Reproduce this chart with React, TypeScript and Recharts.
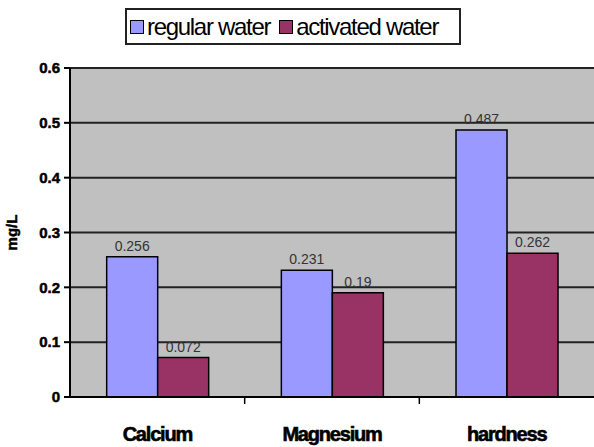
import React from 'react';
import {
  BarChart,
  Bar,
  XAxis,
  YAxis,
  CartesianGrid,
  LabelList
} from 'recharts';

const categories = ['Calcium', 'Magnesium', 'hardness'];
const regularWater = [0.256, 0.231, 0.487];
const activatedWater = [0.072, 0.19, 0.262];
const yTicks = [0, 0.1, 0.2, 0.3, 0.4, 0.5, 0.6];

const data = categories.map((name, i) => ({
  name,
  regular: regularWater[i],
  activated: activatedWater[i]
}));

const CHART_W = 594;
const PLOT_LEFT = 70;
const FONT = "'Liberation Sans', Arial, sans-serif";

// category label plus the little tick mark on the left band edge
const CategoryTick = (props: any) => {
  const { x, y, payload, index } = props;
  const band = (CHART_W - PLOT_LEFT) / categories.length;
  return (
    <g>
      {index > 0 && (
        <line x1={x - band / 2} x2={x - band / 2} y1={y - 8} y2={y - 1} stroke="#000" strokeWidth={1.5} />
      )}
      <text
        x={x}
        y={y + 36}
        textAnchor="middle"
        fontFamily={FONT}
        fontWeight="bold"
        fontSize={20}
        letterSpacing={-1.2}
        stroke="#000"
        strokeWidth={0.6}
        fill="#000"
      >
        {payload.value}
      </text>
    </g>
  );
};

const LegendBox = () => (
  <div
    style={{
      position: 'absolute',
      left: 125,
      top: 8,
      width: 336,
      height: 37,
      border: '2px solid #222',
      display: 'flex',
      alignItems: 'center',
      padding: '0 3px',
      fontFamily: FONT,
      fontSize: 24,
      letterSpacing: -1.3,
      color: '#000',
      boxSizing: 'border-box',
      background: '#fff',
      whiteSpace: 'nowrap'
    }}
  >
    <span style={{ width: 12, height: 12, background: '#9999FF', border: '1.5px solid #000', marginRight: 3 }} />
    <span style={{ marginRight: 9 }}>regular water</span>
    <span style={{ width: 12, height: 12, background: '#993366', border: '1.5px solid #000', marginRight: 3 }} />
    <span>activated water</span>
  </div>
);

export default function App() {
  return (
    <div style={{ position: 'absolute', left: 0, top: 0, width: CHART_W, height: 447, background: '#fff' }}>
      <BarChart
        width={CHART_W}
        height={447}
        data={data}
        margin={{ top: 68, right: 0, left: 0, bottom: 0 }}
        barCategoryGap="21%"
        barGap={0}
      >
        <CartesianGrid vertical={false} stroke="#222" strokeWidth={2} fill="#C0C0C0" />
        <XAxis
          dataKey="name"
          height={50}
          axisLine={{ stroke: '#000', strokeWidth: 2 }}
          tickLine={false}
          tick={<CategoryTick />}
          interval={0}
        />
        <YAxis
          width={PLOT_LEFT}
          domain={[0, 0.6]}
          ticks={yTicks}
          interval={0}
          axisLine={{ stroke: '#000', strokeWidth: 2 }}
          tickLine={{ stroke: '#000', strokeWidth: 2 }}
          tickSize={6}
          tickMargin={4}
          tick={{ fill: '#000', stroke: '#000', strokeWidth: 0.5, fontSize: 15, fontWeight: 'bold', fontFamily: FONT }}
          label={{
            value: 'mg/L',
            angle: -90,
            position: 'insideLeft',
            offset: 12,
            style: { fill: '#000', stroke: '#000', strokeWidth: 0.5, fontSize: 15, fontWeight: 'bold', fontFamily: FONT, textAnchor: 'middle' }
          }}
        />
        <Bar dataKey="regular" name="regular water" fill="#9999FF" stroke="#000" strokeWidth={1.5} isAnimationActive={false}>
          <LabelList dataKey="regular" position="top" offset={6} fill="#333" fontSize={14} fontFamily={FONT} />
        </Bar>
        <Bar dataKey="activated" name="activated water" fill="#993366" stroke="#000" strokeWidth={1.5} isAnimationActive={false}>
          <LabelList dataKey="activated" position="top" offset={6} fill="#333" fontSize={14} fontFamily={FONT} />
        </Bar>
      </BarChart>
      <LegendBox />
    </div>
  );
}
